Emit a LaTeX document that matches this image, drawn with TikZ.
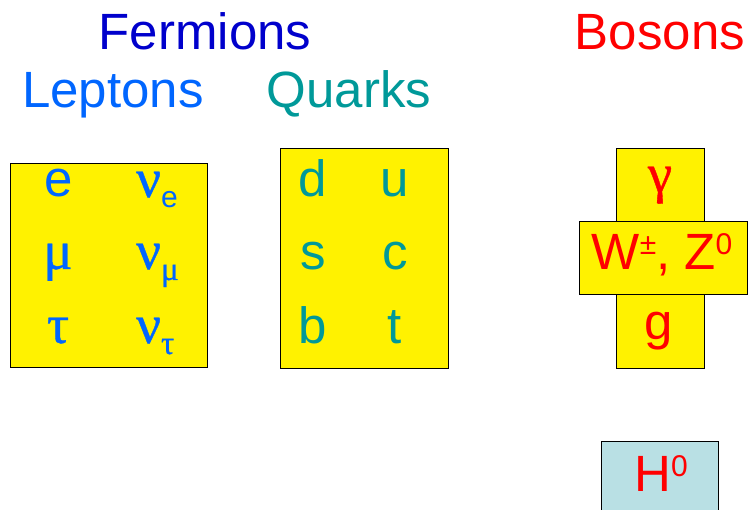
\documentclass[tikz,border=0pt]{standalone}
\usepackage{fontspec}
\setmainfont{Liberation Sans}
\newfontfamily\grkfont[FakeBold=0.7]{Liberation Serif}
\newcommand\grk{\grkfont\fontsize{55}{60}\selectfont}
\definecolor{fermblue}{RGB}{0,0,204}
\definecolor{lepblue}{RGB}{0,102,255}
\definecolor{quarkteal}{RGB}{0,153,153}
\definecolor{higgsbox}{RGB}{185,224,228}
\newcommand\lowtxt[1]{\raisebox{-11pt}{\fontsize{30}{30}\selectfont #1}}
\newcommand\lowgrk[1]{\raisebox{-11pt}{\grkfont\fontsize{33}{33}\selectfont #1}}
\newcommand\uptxt[1]{\raisebox{15pt}{\fontsize{30}{30}\selectfont #1}}
\begin{document}
\begin{tikzpicture}[x=1pt, y=-1pt,
    font=\fontsize{51}{60}\selectfont,
    txt/.style ={inner sep=0pt, anchor=base},
    ybox/.style={draw=black, line width=0.9pt, fill=yellow, anchor=north west, inner sep=0pt},
    lep/.style ={txt, text=lepblue},
    qrk/.style ={txt, text=quarkteal},
    bos/.style ={txt, text=red},
  ]
  \useasboundingbox (0,0) rectangle (756,510);

  % headings
  \node[txt, text=fermblue] (ferm) at (205,50) {Fermions};
  \node[txt, text=lepblue] (lephead) at (113,108) {Leptons};
  \node[txt, text=quarkteal] (qhead) at (349,108) {Quarks};
  \node[txt, text=red] (boshead) at (660,50) {Bosons};

  % Leptons box
  \node[ybox, minimum width=197pt, minimum height=204pt] (lbox) at (10,163) {};
  \node[lep] (e) at (59,197) {e};
  \node[lep] (mu) at (58,269) {\grk μ};
  \node[lep] (tau) at (58,343) {\grk τ};
  \node[lep, anchor=base west] (nue) at (136,197) {{\grk ν}\lowtxt{e}};
  \node[lep, anchor=base west] (numu) at (136,269) {{\grk ν}\lowgrk{μ}};
  \node[lep, anchor=base west] (nutau) at (136,343) {{\grk ν}\lowgrk{τ}};

  % Quarks box
  \node[ybox, minimum width=168pt, minimum height=220pt] (qbox) at (280,148) {};
  \node[qrk] (d) at (313,197) {d};
  \node[qrk] (s) at (313,270) {s};
  \node[qrk] (b) at (313,344) {b};
  \node[qrk] (u) at (395,197) {u};
  \node[qrk] (c) at (395,270) {c};
  \node[qrk] (t) at (395,344) {t};

  % Bosons (cross)
  \node[ybox, minimum width=88pt, minimum height=220pt] (bvert) at (616,148) {};
  \node[ybox, minimum width=168pt, minimum height=73pt] (bhorz) at (579,221) {};
  \node[bos] (gam) at (660,192) {\grk γ};
  \node[bos] (wz) at (662,270) {W\uptxt{±}, Z\uptxt{0}};
  \node[bos] (g) at (659,340) {g};

  % Higgs
  \node[ybox, fill=higgsbox, minimum width=117pt, minimum height=90pt] (hbox) at (601,441) {};
  \node[bos] (h) at (661,492) {H\uptxt{0}};
\end{tikzpicture}
\end{document}
